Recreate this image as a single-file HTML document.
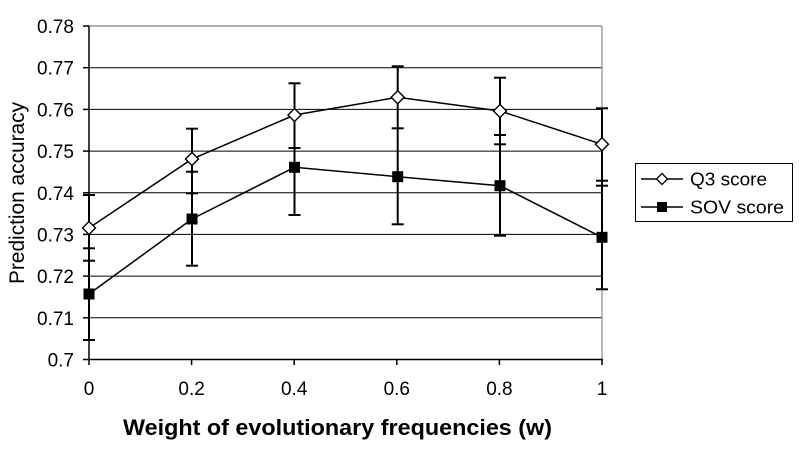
<!DOCTYPE html>
<html>
<head>
<meta charset="utf-8">
<style>
  html,body{margin:0;padding:0;background:#fff;}
  svg{display:block;}
  text{font-family:"Liberation Sans",Arial,sans-serif;fill:#000;}
</style>
</head>
<body>
<svg width="800" height="470" viewBox="0 0 800 470" xmlns="http://www.w3.org/2000/svg">
  <rect x="0" y="0" width="800" height="470" fill="#fff"/>

  <!-- gridlines -->
  <g stroke="#000" stroke-width="1">
    <line x1="89" y1="67.7" x2="602" y2="67.7"/>
    <line x1="89" y1="109.4" x2="602" y2="109.4"/>
    <line x1="89" y1="151.1" x2="602" y2="151.1"/>
    <line x1="89" y1="192.8" x2="602" y2="192.8"/>
    <line x1="89" y1="234.4" x2="602" y2="234.4"/>
    <line x1="89" y1="276.1" x2="602" y2="276.1"/>
    <line x1="89" y1="317.8" x2="602" y2="317.8"/>
  </g>
  <!-- plot border top/right -->
  <line x1="89" y1="26" x2="602" y2="26" stroke="#666" stroke-width="1"/>
  <line x1="602" y1="26" x2="602" y2="359.5" stroke="#888" stroke-width="1.2"/>

  <!-- axes -->
  <line x1="89" y1="26" x2="89" y2="360" stroke="#000" stroke-width="1.5"/>
  <line x1="83" y1="359.5" x2="603" y2="359.5" stroke="#000" stroke-width="1.5"/>
  <g stroke="#000" stroke-width="1.5">
    <line x1="83" y1="26" x2="89" y2="26"/>
    <line x1="83" y1="67.7" x2="89" y2="67.7"/>
    <line x1="83" y1="109.4" x2="89" y2="109.4"/>
    <line x1="83" y1="151.1" x2="89" y2="151.1"/>
    <line x1="83" y1="192.8" x2="89" y2="192.8"/>
    <line x1="83" y1="234.4" x2="89" y2="234.4"/>
    <line x1="83" y1="276.1" x2="89" y2="276.1"/>
    <line x1="83" y1="317.8" x2="89" y2="317.8"/>
    <line x1="89" y1="359.5" x2="89" y2="365"/>
    <line x1="191.6" y1="359.5" x2="191.6" y2="365"/>
    <line x1="294.2" y1="359.5" x2="294.2" y2="365"/>
    <line x1="396.8" y1="359.5" x2="396.8" y2="365"/>
    <line x1="499.4" y1="359.5" x2="499.4" y2="365"/>
    <line x1="602" y1="359.5" x2="602" y2="365"/>
  </g>

  <!-- y tick labels -->
  <g font-size="19" text-anchor="end">
    <text x="74" y="33">0.78</text>
    <text x="74" y="74.7">0.77</text>
    <text x="74" y="116.4">0.76</text>
    <text x="74" y="158.1">0.75</text>
    <text x="74" y="199.8">0.74</text>
    <text x="74" y="241.4">0.73</text>
    <text x="74" y="283.1">0.72</text>
    <text x="74" y="324.8">0.71</text>
    <text x="74" y="366.5">0.7</text>
  </g>
  <!-- x tick labels -->
  <g font-size="19" text-anchor="middle">
    <text x="89" y="395">0</text>
    <text x="191.6" y="395">0.2</text>
    <text x="294.2" y="395">0.4</text>
    <text x="396.8" y="395">0.6</text>
    <text x="499.4" y="395">0.8</text>
    <text x="602" y="395">1</text>
  </g>

  <!-- axis titles -->
  <text x="337.5" y="435" font-size="22" font-weight="bold" text-anchor="middle" textLength="429" lengthAdjust="spacingAndGlyphs">Weight of evolutionary frequencies (w)</text>
  <text transform="translate(24,193) rotate(-90)" font-size="21" text-anchor="middle" textLength="182" lengthAdjust="spacingAndGlyphs">Prediction accuracy</text>

  <!-- error bars -->
  <g stroke="#000" stroke-width="2" fill="none">
    <line x1="89" y1="195" x2="89" y2="340"/>
    <line x1="83" y1="195" x2="95" y2="195"/>
    <line x1="83" y1="248.3" x2="95" y2="248.3"/>
    <line x1="83" y1="260.7" x2="95" y2="260.7"/>
    <line x1="83" y1="340" x2="95" y2="340"/>

    <line x1="192" y1="128.7" x2="192" y2="265.7"/>
    <line x1="186" y1="128.7" x2="198" y2="128.7"/>
    <line x1="186" y1="171.7" x2="198" y2="171.7"/>
    <line x1="186" y1="193.3" x2="198" y2="193.3"/>
    <line x1="186" y1="265.7" x2="198" y2="265.7"/>

    <line x1="294.5" y1="83.3" x2="294.5" y2="215"/>
    <line x1="288.5" y1="83.3" x2="300.5" y2="83.3"/>
    <line x1="288.5" y1="148" x2="300.5" y2="148"/>
    <line x1="288.5" y1="215" x2="300.5" y2="215"/>

    <line x1="397.7" y1="66.3" x2="397.7" y2="224.3"/>
    <line x1="391.7" y1="66.3" x2="403.7" y2="66.3"/>
    <line x1="391.7" y1="128.3" x2="403.7" y2="128.3"/>
    <line x1="391.7" y1="224.3" x2="403.7" y2="224.3"/>

    <line x1="500" y1="77.7" x2="500" y2="235.7"/>
    <line x1="494" y1="77.7" x2="506" y2="77.7"/>
    <line x1="494" y1="135" x2="506" y2="135"/>
    <line x1="494" y1="144.3" x2="506" y2="144.3"/>
    <line x1="494" y1="235.7" x2="506" y2="235.7"/>

    <line x1="602" y1="108.3" x2="602" y2="289.3"/>
    <line x1="596" y1="108.3" x2="608" y2="108.3"/>
    <line x1="596" y1="180.7" x2="608" y2="180.7"/>
    <line x1="596" y1="185.7" x2="608" y2="185.7"/>
    <line x1="596" y1="289.3" x2="608" y2="289.3"/>
  </g>

  <!-- series lines -->
  <polyline points="89,228 192,159 294.5,115 397.7,97.3 500,111 602,144.3" fill="none" stroke="#000" stroke-width="1.5"/>
  <polyline points="89,294 192,219 294.5,167.3 397.7,176.7 500,185.7 602,237.3" fill="none" stroke="#000" stroke-width="1.5"/>

  <!-- Q3 markers (diamonds) -->
  <g fill="#fff" stroke="#000" stroke-width="1.4">
    <polygon points="89,221.5 95.5,228 89,234.5 82.5,228"/>
    <polygon points="192,152.5 198.5,159 192,165.5 185.5,159"/>
    <polygon points="294.5,108.5 301,115 294.5,121.5 288,115"/>
    <polygon points="397.7,90.8 404.2,97.3 397.7,103.8 391.2,97.3"/>
    <polygon points="500,104.5 506.5,111 500,117.5 493.5,111"/>
    <polygon points="602,137.8 608.5,144.3 602,150.8 595.5,144.3"/>
  </g>
  <!-- SOV markers (squares) -->
  <g fill="#000">
    <rect x="83.5" y="288.5" width="11" height="11"/>
    <rect x="186.5" y="213.5" width="11" height="11"/>
    <rect x="289" y="161.8" width="11" height="11"/>
    <rect x="392.2" y="171.2" width="11" height="11"/>
    <rect x="494.5" y="180.2" width="11" height="11"/>
    <rect x="596.5" y="231.8" width="11" height="11"/>
  </g>

  <!-- legend -->
  <rect x="635.5" y="163.5" width="157" height="58" fill="#fff" stroke="#000" stroke-width="1"/>
  <line x1="641" y1="179" x2="683" y2="179" stroke="#000" stroke-width="1.5"/>
  <polygon points="662,173.5 667.5,179 662,184.5 656.5,179" fill="#fff" stroke="#000" stroke-width="1.3"/>
  <text x="690" y="185.5" font-size="18.5" textLength="77" lengthAdjust="spacingAndGlyphs">Q3 score</text>
  <line x1="641" y1="207" x2="683" y2="207" stroke="#000" stroke-width="1.5"/>
  <rect x="657" y="202" width="10" height="10" fill="#000"/>
  <text x="690" y="213.5" font-size="18.5" textLength="94" lengthAdjust="spacingAndGlyphs">SOV score</text>
</svg>
</body>
</html>
